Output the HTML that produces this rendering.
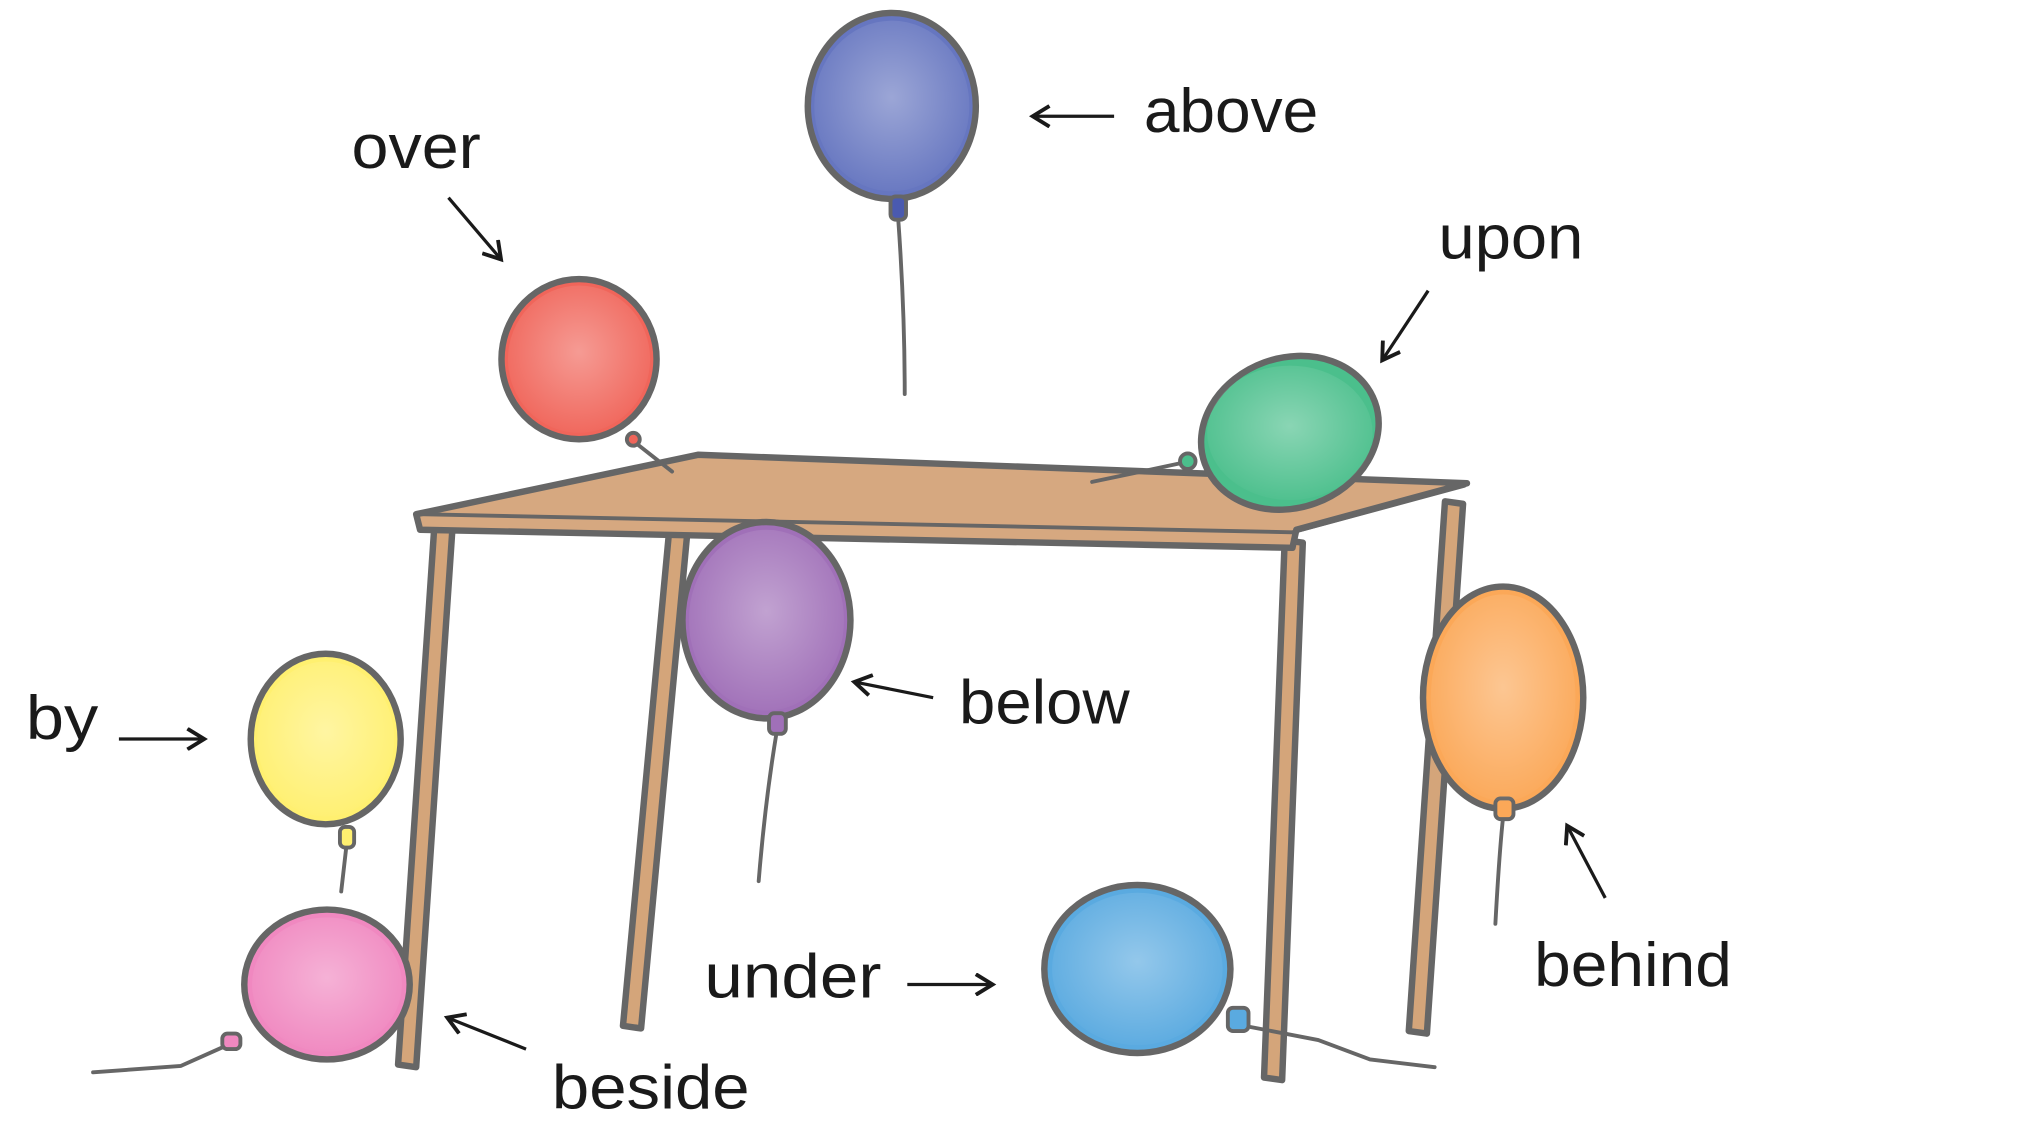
<!DOCTYPE html>
<html><head><meta charset="utf-8"><style>
html,body{margin:0;padding:0;background:#fff;}
svg{display:block;}
text{font-family:"Liberation Sans",sans-serif;font-size:48px;fill:#1a1a1a;}
</style></head><body>
<svg width="2024" height="1146" viewBox="0 0 1566 887" preserveAspectRatio="none" xmlns="http://www.w3.org/2000/svg">
<defs>
<marker id="ah" markerWidth="18" markerHeight="18" refX="14" refY="9" orient="auto" markerUnits="userSpaceOnUse" viewBox="0 0 18 18">
<path d="M2,1 L15,9 L2,17" fill="none" stroke="#1a1a1a" stroke-width="3"/></marker>
<radialGradient id="g1" cx="0.5" cy="0.45" r="0.6"><stop offset="0" stop-color="#fff" stop-opacity="0.35"/><stop offset="1" stop-color="#fff" stop-opacity="0"/></radialGradient>
</defs>
<g stroke="#666" stroke-width="5" stroke-linejoin="round" stroke-linecap="round">
<path d="M336,408 L350,410 L322,826 L308,824 Z" fill="#d4a57a"/>
<path d="M518,408 L532,410 L496,796 L482,794 Z" fill="#d4a57a"/>
<path d="M994,418 L1008,420 L992,836 L978,834 Z" fill="#d4a57a"/>
<path d="M1118,388 L1132,390 L1104,800 L1090,798 Z" fill="#d4a57a"/>
<path d="M322,398 L540,352 L1135,374 L1003,410 L1000,424 L325,410 Z" fill="#d6a880"/>
<path d="M325,398 L1000,412 L1133,376" fill="none" stroke-width="3"/>
<path d="M695,170 Q700,240 700,305" fill="none" stroke-width="3"/>
<path d="M601,566 Q592,620 587,682" fill="none" stroke-width="3"/>
<path d="M268,655 L264,690" fill="none" stroke-width="3"/>
<path d="M1163,632 Q1160,660 1157,715" fill="none" stroke-width="3"/>
<path d="M492,343 L520,365" fill="none" stroke-width="3"/>
<path d="M916,358 L845,373" fill="none" stroke-width="3"/>
<path d="M178,808 L140,825 L72,830" fill="none" stroke-width="3"/>
<path d="M968,795 L1020,805 L1060,820 L1110,826" fill="none" stroke-width="3"/>
<ellipse cx="690" cy="82" rx="65" ry="72" fill="#6676c0"/>
<ellipse cx="448" cy="278" rx="60" ry="62" fill="#f0655a"/>
<ellipse cx="998" cy="335" rx="70" ry="58" transform="rotate(-20 998 335)" fill="#4bbf8c"/>
<ellipse cx="593" cy="480" rx="65" ry="76" fill="#a070b8"/>
<ellipse cx="252" cy="572" rx="58" ry="66" fill="#fff070"/>
<ellipse cx="253" cy="762" rx="64" ry="58" fill="#f088c0"/>
<ellipse cx="880" cy="750" rx="72" ry="65" fill="#5aaae0"/>
<ellipse cx="1163" cy="540" rx="62" ry="86" fill="#fba858"/>
<rect x="689" y="152" width="12" height="18" rx="4" fill="#4a5ab0" stroke-width="3"/>
<circle cx="490" cy="340" r="5" fill="#f0655a" stroke-width="3"/>
<circle cx="919" cy="357" r="6" fill="#4bbf8c" stroke-width="3"/>
<rect x="595" y="552" width="13" height="16" rx="4" fill="#a070b8" stroke-width="3"/>
<rect x="263" y="640" width="11" height="16" rx="4" fill="#fff070" stroke-width="3"/>
<rect x="172" y="800" width="14" height="12" rx="4" fill="#f088c0" stroke-width="3"/>
<rect x="950" y="780" width="16" height="18" rx="4" fill="#5aaae0" stroke-width="3"/>
<rect x="1157" y="618" width="14" height="16" rx="4" fill="#fba858" stroke-width="3"/>
</g>
<g fill="url(#g1)">
<ellipse cx="690" cy="82" rx="60" ry="66"/><ellipse cx="448" cy="278" rx="55" ry="57"/>
<ellipse cx="998" cy="335" rx="64" ry="52"/><ellipse cx="593" cy="480" rx="60" ry="70"/>
<ellipse cx="252" cy="572" rx="53" ry="60"/><ellipse cx="253" cy="762" rx="58" ry="52"/>
<ellipse cx="880" cy="750" rx="66" ry="59"/><ellipse cx="1163" cy="540" rx="56" ry="80"/>
</g>
<g stroke="#1a1a1a" stroke-width="2.5" fill="none" marker-end="url(#ah)">
<line x1="862" y1="90" x2="800" y2="90"/>
<line x1="347" y1="153" x2="387" y2="200"/>
<line x1="1105" y1="225" x2="1070" y2="278"/>
<line x1="722" y1="540" x2="662" y2="528"/>
<line x1="92" y1="572" x2="157" y2="572"/>
<line x1="702" y1="762" x2="767" y2="762"/>
<line x1="1242" y1="695" x2="1213" y2="640"/>
<line x1="407" y1="812" x2="347" y2="788"/>
</g>
<text x="885" y="102" textLength="135" lengthAdjust="spacingAndGlyphs">above</text>
<text x="272" y="130" textLength="100" lengthAdjust="spacingAndGlyphs">over</text>
<text x="1113" y="200" textLength="112" lengthAdjust="spacingAndGlyphs">upon</text>
<text x="742" y="560" textLength="132" lengthAdjust="spacingAndGlyphs">below</text>
<text x="20" y="572" textLength="56" lengthAdjust="spacingAndGlyphs">by</text>
<text x="545" y="772" textLength="137" lengthAdjust="spacingAndGlyphs">under</text>
<text x="1187" y="763" textLength="153" lengthAdjust="spacingAndGlyphs">behind</text>
<text x="427" y="858" textLength="153" lengthAdjust="spacingAndGlyphs">beside</text>
</svg>
</body></html>
